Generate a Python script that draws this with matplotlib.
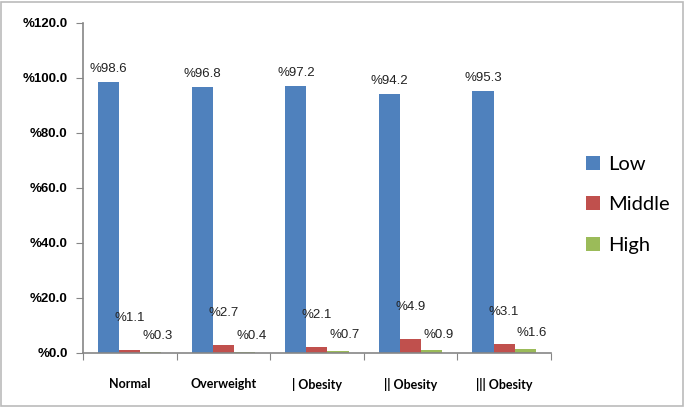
import numpy as np
import matplotlib.pyplot as plt
from matplotlib.patches import Rectangle

# datos
categorias = ['Normal', 'Overweight', '| Obesity', '|| Obesity', '||| Obesity']
series = ['Low', 'Middle', 'High']
bajo = [98.6, 96.8, 97.2, 94.2, 95.3]
medio = [1.1, 2.7, 2.1, 4.9, 3.1]
alto = [0.3, 0.4, 0.7, 0.9, 1.6]
ticks_y = [0, 20, 40, 60, 80, 100, 120]

colores = ['#4F81BD', '#C0504D', '#9BBB59']
gris = '#868686'

fig = plt.figure(figsize=(6.86, 4.08), dpi=100)
ax = fig.add_axes([0.121, 0.135, 0.682, 0.809])

x = np.arange(len(categorias))
ancho = 0.225
# desplazamiento de las etiquetas (puntos) por serie
desp = [(0, 5), (0, 19), (5, 7)]

for i, (nombre, valores) in enumerate(zip(series, [bajo, medio, alto])):
    pos = x + (i - 1) * ancho
    barras = ax.bar(pos, valores, width=ancho, color=colores[i], label=nombre)
    for b, v in zip(barras, valores):
        ax.annotate(f'%{v:.1f}', (b.get_x() + b.get_width() / 2, v),
                    xytext=desp[i], textcoords='offset points',
                    ha='center', va='bottom', fontsize=9.5,
                    family='Liberation Sans', color='#222222')

ax.set_xlim(-0.5, len(categorias) - 0.5)
ax.set_ylim(0, 120)
ax.set_yticks(ticks_y)
ax.set_yticklabels([f'%{t:.1f}' for t in ticks_y], fontsize=9.5,
                   fontweight='bold', family='Liberation Sans')

# ticks mayores en los limites de categoria, etiquetas en el centro
ax.set_xticks(np.arange(-0.5, len(categorias), 1.0))
ax.set_xticklabels([])
ax.set_xticks(x, minor=True)
ax.set_xticklabels(categorias, minor=True, fontsize=9, fontweight='bold', family='Lato')
ax.tick_params(axis='x', which='minor', length=0, pad=18)
ax.tick_params(axis='x', which='major', length=5, color=gris, direction='out')
ax.tick_params(axis='y', length=5, color=gris, direction='out', pad=6)

for lado in ['top', 'right']:
    ax.spines[lado].set_visible(False)
for lado in ['left', 'bottom']:
    ax.spines[lado].set_color(gris)
    ax.spines[lado].set_linewidth(1.2)

fig.legend(loc='center left', bbox_to_anchor=(0.828, 0.498), frameon=False,
           prop={'family': 'Lato', 'size': 14.5}, handlelength=0.7,
           handleheight=0.7, handletextpad=0.4, labelspacing=1.15)

# marco exterior
fig.patches.append(Rectangle((0.002, 0.005), 0.994, 0.99, transform=fig.transFigure,
                             fill=False, edgecolor='#BBBBBB', linewidth=1.2))

fig.savefig('out.png', dpi=100)
